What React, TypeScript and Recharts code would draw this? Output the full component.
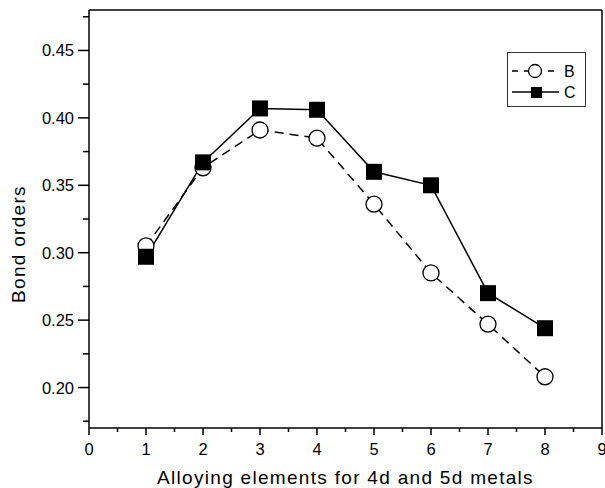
import React from "react";
import {
  LineChart,
  Line,
  XAxis,
  YAxis,
  ReferenceLine,
  Legend,
} from "recharts";

const elements = [1, 2, 3, 4, 5, 6, 7, 8];
const bondB = [0.305, 0.363, 0.391, 0.385, 0.336, 0.285, 0.247, 0.208];
const bondC = [0.297, 0.367, 0.407, 0.406, 0.36, 0.35, 0.27, 0.244];

const xTicks = [0, 0.5, 1, 1.5, 2, 2.5, 3, 3.5, 4, 4.5, 5, 5.5, 6, 6.5, 7, 7.5, 8, 8.5, 9];
const yTicks = [0.175, 0.2, 0.225, 0.25, 0.275, 0.3, 0.325, 0.35, 0.375, 0.4, 0.425, 0.45, 0.475];

const xTitle = "Alloying elements for 4d and 5d metals";
const yTitle = "Bond orders";

const data = elements.map((x, i) => ({ x, B: bondB[i], C: bondC[i] }));

const FONT = "'Liberation Sans', Arial, sans-serif";

const XTick = (props: any) => {
  const { x, y, payload } = props;
  const major = Number.isInteger(payload.value);
  return (
    <g>
      <line x1={x} x2={x} y1={y} y2={y + (major ? 7 : 4)} stroke="#000" strokeWidth={1.5} />
      {major && (
        <text x={x} y={y + 27} textAnchor="middle" fontSize={16.5} fontFamily={FONT} fill="#000">
          {payload.value}
        </text>
      )}
    </g>
  );
};

const YTick = (props: any) => {
  const { x, y, payload } = props;
  const major = Math.round(payload.value * 1000) % 50 === 0;
  return (
    <g>
      <line x1={x} x2={x - (major ? 11 : 6)} y1={y} y2={y} stroke="#000" strokeWidth={1.5} />
      {major && (
        <text x={x - 15} y={y + 6} textAnchor="end" fontSize={16.5} fontFamily={FONT} fill="#000">
          {payload.value.toFixed(2)}
        </text>
      )}
    </g>
  );
};

const SquareDot = (props: any) => {
  const { cx, cy, index } = props;
  return <rect key={`sq-${index}`} x={cx - 8} y={cy - 8} width={16} height={16} fill="#000" />;
};

const LegendBox = () => (
  <svg width={80} height={56} style={{ display: "block" }}>
    <rect x={0.5} y={0.5} width={78} height={54} fill="#fff" stroke="#333" strokeWidth={1} />
    <line x1={5} x2={52} y1={19} y2={19} stroke="#000" strokeWidth={1.5} strokeDasharray="6 6" />
    <circle cx={28} cy={19} r={6.5} fill="#fff" stroke="#000" strokeWidth={1.3} />
    <text x={57} y={24.5} fontSize={16} fontFamily={FONT} fill="#000">B</text>
    <line x1={5} x2={52} y1={40} y2={40} stroke="#000" strokeWidth={1.5} />
    <rect x={24} y={35} width={11} height={11} fill="#000" />
    <text x={57} y={45.5} fontSize={16} fontFamily={FONT} fill="#000">C</text>
  </svg>
);

const XTitle = () => (
  <text
    x={345.5}
    y={484}
    textAnchor="middle"
    fontSize={19}
    letterSpacing={1.3}
    fontFamily={FONT}
    fill="#000"
  >
    {xTitle}
  </text>
);

const YTitle = () => (
  <text
    x={25}
    y={244}
    transform="rotate(-90, 25, 244)"
    textAnchor="middle"
    fontSize={19}
    letterSpacing={1.3}
    fontFamily={FONT}
    fill="#000"
  >
    {yTitle}
  </text>
);

export default function App() {
  return (
    <div style={{ position: "absolute", left: 0, top: 0 }}>
      <LineChart
        width={605}
        height={488}
        data={data}
        margin={{ top: 10, right: 3, bottom: 0, left: 0 }}
      >
        <XAxis
          dataKey="x"
          type="number"
          domain={[0, 9]}
          ticks={xTicks}
          interval={0}
          height={60}
          tickSize={0}
          tickMargin={0}
          tickLine={false}
          tick={<XTick />}
          axisLine={{ stroke: "#000", strokeWidth: 1.5 }}
          label={() => <XTitle />}
        />
        <YAxis
          type="number"
          domain={[0.17, 0.48]}
          ticks={yTicks}
          interval={0}
          width={89}
          tickSize={0}
          tickMargin={0}
          tickLine={false}
          tick={<YTick />}
          allowDataOverflow
          axisLine={{ stroke: "#000", strokeWidth: 1.5 }}
          label={() => <YTitle />}
        />
        <ReferenceLine y={0.48} stroke="#000" strokeWidth={1.5} />
        <ReferenceLine x={9} stroke="#000" strokeWidth={1.5} />
        <Legend
          layout="vertical"
          align="center"
          verticalAlign="middle"
          wrapperStyle={{ position: "absolute", left: 507, top: 52, width: 80, height: 56 }}
          content={() => <LegendBox />}
        />
        <Line
          dataKey="B"
          stroke="#000"
          strokeWidth={1.5}
          strokeDasharray="9 6"
          dot={{ r: 8, fill: "#fff", stroke: "#000", strokeWidth: 1.3, strokeDasharray: "" }}
          isAnimationActive={false}
        />
        <Line
          dataKey="C"
          stroke="#000"
          strokeWidth={1.5}
          dot={<SquareDot />}
          isAnimationActive={false}
        />
      </LineChart>
    </div>
  );
}
